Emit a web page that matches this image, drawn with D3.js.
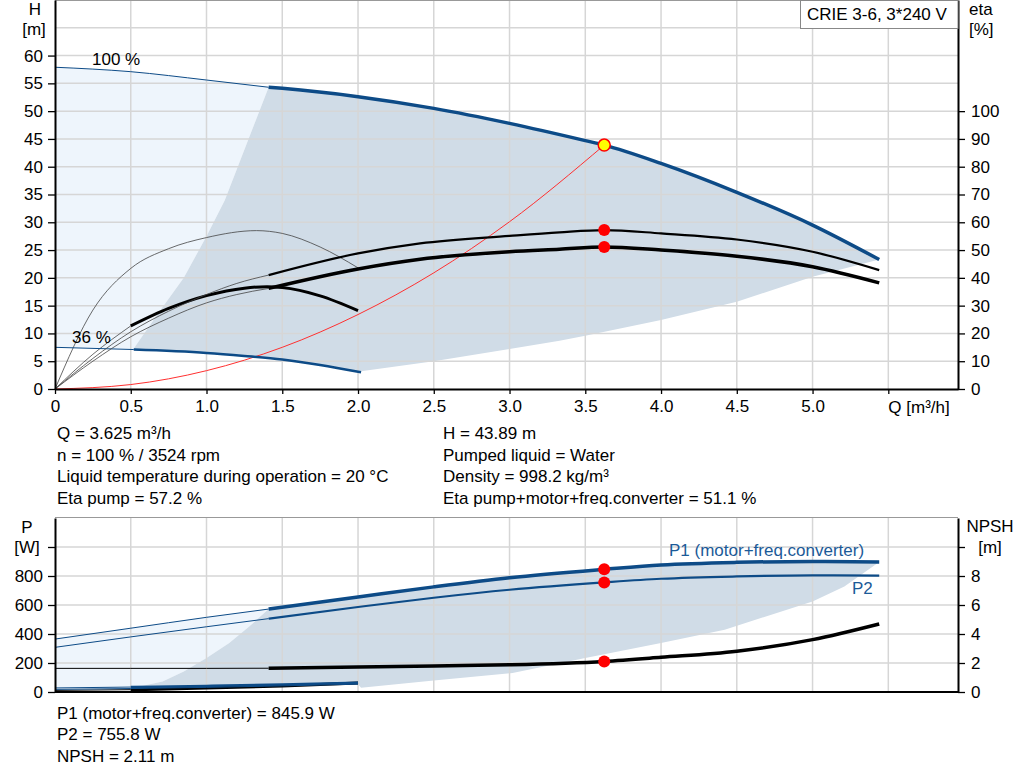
<!DOCTYPE html>
<html>
<head>
<meta charset="utf-8">
<script src="https://cdn.jsdelivr.net/npm/d3@7"></script>
<style>
  body { margin: 0; background: #fff; }
  svg text { font-family: "Liberation Sans", Arial, sans-serif; font-size: 17px; fill: #000; }
</style>
</head>
<body>
<div id="chart"></div>
<script>
// ---- head / efficiency (upper chart) ----
const qH100 = [0, 0.5, 1.0, 1.41, 1.5, 2.0, 2.5, 3.0, 3.5, 3.625, 4.0, 4.5, 5.0, 5.44];
const h100 = [57.9, 57.1, 55.6, 54.3, 54.1, 52.6, 50.5, 47.8, 44.7, 43.89, 40.6, 35.4, 29.5, 23.3];
const qH36 = [0, 0.52, 1.0, 1.25, 1.5, 1.75, 2.02];
const h36 = [7.5, 7.1, 6.5, 5.95, 5.3, 4.3, 3.0];

const qEta100 = [0, 0.25, 0.5, 0.75, 1.0, 1.2, 1.41, 2.0, 2.41, 3.0, 3.33, 3.625, 4.0, 4.5, 5.0, 5.44];
const etaPump100 = [0, 11, 20.6, 28, 34, 38, 41, 48.8, 52.4, 55.1, 56.4, 57.2, 56.0, 53.8, 49.4, 42.8];
const etaTotal100 = [0, 10, 18.8, 25.5, 31, 34, 36.2, 43.2, 46.7, 49.4, 50.3, 51.1, 50.0, 47.8, 44.0, 38.2];

const qEtaPump36 = [0, 0.25, 0.5, 0.75, 1.0, 1.33, 1.5, 1.75, 2.0];
const etaPump36 = [0, 28.4, 43.4, 50.5, 54.5, 57.0, 56.0, 51.1, 43.6];
const qEtaTotal36 = [0, 0.25, 0.5, 0.75, 1.0, 1.25, 1.4, 1.5, 1.75, 2.0];
const etaTotal36 = [0, 12.5, 22.7, 29, 33.6, 36.3, 36.8, 36.5, 33.5, 28.2];

const qSystem = [0, 0.5, 1.0, 1.5, 2.0, 2.5, 3.0, 3.625];
const hSystem = [0, 0.8, 3.3, 7.5, 13.4, 20.9, 30.1, 43.89];

const qMinBound = [0.52, 0.68, 0.85, 1.0, 1.12, 1.41];
const hMinBound = [7.3, 13.6, 20.0, 27.5, 33.9, 54.3];
const qLowBound = [2.02, 2.5, 3.0, 3.33, 3.5, 4.0, 4.5, 5.0, 5.44];
const hLowBound = [3.2, 5.0, 7.2, 8.7, 9.6, 12.4, 15.7, 20.2, 23.3];

// ---- power / NPSH (lower chart) ----
const qP100 = [0, 0.5, 1.0, 1.41, 2.0, 2.5, 3.0, 3.625, 4.0, 4.5, 5.0, 5.44];
const p1_100 = [365, 440, 515, 572, 655, 725, 788, 846, 876, 894, 900, 897];
const p2_100 = [308, 380, 450, 506, 586, 650, 705, 756, 781, 797, 804, 802];
const npsh100 = [1.63, 1.63, 1.63, 1.64, 1.72, 1.80, 1.88, 2.11, 2.39, 2.81, 3.61, 4.69];

const qP36 = [0, 0.5, 1.0, 1.5, 2.0];
const p1_36 = [28, 34, 42, 52, 64];
const p2_36 = [18, 24, 32, 42, 54];
const npsh36 = [0.11, 0.16, 0.27, 0.42, 0.62];

const qPMinBound = [0.52, 0.71, 0.85, 1.0, 1.15, 1.28, 1.41];
const pMinBound = [30, 73, 142, 235, 338, 450, 572];
const qPLowBound = [2.02, 2.5, 3.02, 3.5, 4.0, 4.42, 5.0, 5.21, 5.44];
const pLowBound = [30, 80, 131, 234, 338, 430, 625, 728, 897];

// ---- duty point / ticks / texts ----
const dutyQ = 3.625, dutyH = 43.89, dutyEtaPump = 57.2, dutyEtaTotal = 51.1;
const dutyP1 = 845.9, dutyP2 = 755.8, dutyNpsh = 2.11;

const qTicks = [0, 0.5, 1.0, 1.5, 2.0, 2.5, 3.0, 3.5, 4.0, 4.5, 5.0, 5.5];
const hTicks = [0, 5, 10, 15, 20, 25, 30, 35, 40, 45, 50, 55, 60];
const hGrid = [5, 10, 15, 20, 25, 30, 35, 40, 45, 50, 55, 60, 65];
const etaTicks = [0, 10, 20, 30, 40, 50, 60, 70, 80, 90, 100];
const pTicks = [0, 200, 400, 600, 800, 1000];
const npshTicks = [0, 2, 4, 6, 8, 10];

const infoLeft = ["Q = 3.625 m³/h", "n = 100 % / 3524 rpm",
  "Liquid temperature during operation = 20 °C", "Eta pump = 57.2 %"];
const infoRight = ["H = 43.89 m", "Pumped liquid = Water",
  "Density = 998.2 kg/m³", "Eta pump+motor+freq.converter = 51.1 %"];
const infoBottom = ["P1 (motor+freq.converter) = 845.9 W", "P2 = 755.8 W", "NPSH = 2.11 m"];

const BLUE = "#0d4b87", LIGHT = "#eef5fc", DARK = "#d0dce7", GRID = "#d6d6d6";

const svg = d3.select("#chart").append("svg")
  .attr("width", 1024).attr("height", 781);

const x = d3.scaleLinear().domain([0, 5.96]).range([55, 958]);
const yH = d3.scaleLinear().domain([0, 70]).range([389, 0]);
const yEta = d3.scaleLinear().domain([0, 140]).range([389, 0]);
const yP = d3.scaleLinear().domain([0, 1200]).range([692, 518]);
const yN = d3.scaleLinear().domain([0, 12]).range([692, 518]);

const zip = (qs, vs) => qs.map((q, i) => [q, vs[i]]);
const part = (qs, vs, lo, hi) => zip(qs, vs).filter(d => d[0] >= lo && d[0] <= hi);

function curve(pts, ys, color, width) {
  svg.append("path")
    .attr("d", d3.line().x(d => x(d[0])).y(d => ys(d[1])).curve(d3.curveMonotoneX)(pts))
    .attr("fill", "none").attr("stroke", color).attr("stroke-width", width)
    .attr("stroke-linecap", "butt");
}
function area(pts, ys, color) {
  svg.append("path")
    .attr("d", d3.line().x(d => x(d[0])).y(d => ys(d[1]))(pts) + "Z")
    .attr("fill", color).attr("stroke", "none");
}
function rev(a) { return a.slice().reverse(); }

// ---------- upper chart fills ----------
area([].concat(part(qH100, h100, 0, 1.41), rev(zip(qMinBound, hMinBound)),
  rev(part(qH36, h36, 0, 0.52))), yH, LIGHT);
area([].concat(zip(qMinBound, hMinBound), part(qH100, h100, 1.41, 6),
  rev(zip(qLowBound, hLowBound)), rev(part(qH36, h36, 0.52, 2.1))), yH, DARK);

// grid
svg.append("g").selectAll("line").data(qTicks.slice(1)).join("line")
  .attr("x1", d => x(d)).attr("x2", d => x(d)).attr("y1", 0).attr("y2", 389)
  .attr("stroke", GRID).attr("stroke-width", 1.5);
svg.append("g").selectAll("line").data(hGrid).join("line")
  .attr("x1", 55).attr("x2", 958).attr("y1", d => yH(d)).attr("y2", d => yH(d))
  .attr("stroke", GRID).attr("stroke-width", 1.5);

// system curve
curve(zip(qSystem, hSystem), yH, "#ff3030", 1);

// 36 % curves
curve(zip(qEtaPump36, etaPump36), yEta, "#444", 0.8);
curve(part(qEtaTotal36, etaTotal36, 0, 0.5), yEta, "#444", 0.8);
curve(part(qEtaTotal36, etaTotal36, 0.5, 2.1), yEta, "#000", 3);
curve(part(qH36, h36, 0, 0.52), yH, BLUE, 1);
curve(part(qH36, h36, 0.52, 2.1), yH, BLUE, 2.5);

// 100 % curves
curve(part(qEta100, etaPump100, 0, 1.41), yEta, "#444", 0.8);
curve(part(qEta100, etaTotal100, 0, 1.41), yEta, "#444", 0.8);
curve(part(qEta100, etaPump100, 1.41, 6), yEta, "#000", 2.2);
curve(part(qEta100, etaTotal100, 1.41, 6), yEta, "#000", 3.5);
curve(part(qH100, h100, 0, 1.41), yH, BLUE, 1);
curve(part(qH100, h100, 1.41, 6), yH, BLUE, 3.5);

// duty points
svg.append("circle").attr("cx", x(dutyQ)).attr("cy", yEta(dutyEtaPump)).attr("r", 6).attr("fill", "#ff0000");
svg.append("circle").attr("cx", x(dutyQ)).attr("cy", yEta(dutyEtaTotal)).attr("r", 6).attr("fill", "#ff0000");
svg.append("circle").attr("cx", x(dutyQ)).attr("cy", yH(dutyH)).attr("r", 6)
  .attr("fill", "#ffff00").attr("stroke", "#ff0000").attr("stroke-width", 1.5);

// curve labels
svg.append("text").attr("x", 92).attr("y", 65).text("100 %");
svg.append("text").attr("x", 72).attr("y", 343).text("36 %");

// axes upper
svg.append("line").attr("x1", 55).attr("x2", 958).attr("y1", 0.5).attr("y2", 0.5)
  .attr("stroke", "#999").attr("stroke-width", 1);
svg.append("g").attr("transform", "translate(55,0)")
  .call(d3.axisLeft(yH).tickValues(hTicks).tickSize(7).tickSizeOuter(0).tickPadding(5));
svg.append("g").attr("transform", "translate(958,0)")
  .call(d3.axisRight(yEta).tickValues(etaTicks).tickSize(7).tickSizeOuter(0).tickPadding(6));
svg.append("g").attr("transform", "translate(0,389)")
  .call(d3.axisBottom(x).tickValues(qTicks).tickSize(5).tickSizeOuter(0).tickPadding(6)
    .tickFormat(d => d === 5.5 ? "" : (d === 0 ? "0" : d.toFixed(1))));
svg.append("text").attr("x", x(5.5)).attr("y", 413).text("Q [m³/h]");
svg.append("text").attr("x", 35).attr("y", 15).attr("text-anchor", "middle").text("H");
svg.append("text").attr("x", 34).attr("y", 35).attr("text-anchor", "middle").text("[m]");
svg.append("text").attr("x", 969).attr("y", 15).text("eta");
svg.append("text").attr("x", 969).attr("y", 35).text("[%]");

// model box
svg.append("rect").attr("x", 800.5).attr("y", 0.5).attr("width", 157.5).attr("height", 28)
  .attr("fill", "#fff").attr("stroke", "#888");
svg.append("text").attr("x", 807).attr("y", 20).text("CRIE 3-6, 3*240 V");

// info text
infoLeft.forEach((t, i) => svg.append("text").attr("x", 57).attr("y", 439 + i * 21.5).text(t));
infoRight.forEach((t, i) => svg.append("text").attr("x", 443).attr("y", 439 + i * 21.5).text(t));

// ---------- lower chart ----------
area([].concat(part(qP100, p1_100, 0, 1.41), rev(zip(qPMinBound, pMinBound)),
  rev(part(qP36, p1_36, 0, 0.52))), yP, LIGHT);
area([].concat(zip(qPMinBound, pMinBound), part(qP100, p1_100, 1.41, 6),
  rev(zip(qPLowBound, pLowBound)), rev(part(qP36, p2_36, 0.5, 2.1))), yP, DARK);

svg.append("g").selectAll("line").data(qTicks.slice(1)).join("line")
  .attr("x1", d => x(d)).attr("x2", d => x(d)).attr("y1", 518).attr("y2", 692)
  .attr("stroke", GRID).attr("stroke-width", 1.5);
svg.append("g").selectAll("line").data(pTicks.slice(1)).join("line")
  .attr("x1", 55).attr("x2", 958).attr("y1", d => yP(d)).attr("y2", d => yP(d))
  .attr("stroke", GRID).attr("stroke-width", 1.5);

curve(part(qP36, npsh36, 0, 0.5), yN, "#000", 1);
curve(part(qP36, npsh36, 0.5, 2.1), yN, "#000", 3);
curve(part(qP36, p2_36, 0, 2.1), yP, BLUE, 1);
curve(part(qP36, p1_36, 0, 0.5), yP, BLUE, 1);
curve(part(qP36, p1_36, 0.5, 2.1), yP, BLUE, 2.5);

curve(part(qP100, npsh100, 0, 1.41), yN, "#000", 1);
curve(part(qP100, npsh100, 1.41, 6), yN, "#000", 3.5);
curve(part(qP100, p2_100, 0, 1.41), yP, BLUE, 1);
curve(part(qP100, p2_100, 1.41, 6), yP, BLUE, 2.2);
curve(part(qP100, p1_100, 0, 1.41), yP, BLUE, 1);
curve(part(qP100, p1_100, 1.41, 6), yP, BLUE, 3.5);

[yP(dutyP1), yP(dutyP2), yN(dutyNpsh)].forEach(cy =>
  svg.append("circle").attr("cx", x(dutyQ)).attr("cy", cy).attr("r", 6).attr("fill", "#ff0000"));

svg.append("text").attr("x", 669).attr("y", 556).style("fill", "#1b5a98").text("P1 (motor+freq.converter)");
svg.append("text").attr("x", 852).attr("y", 594).style("fill", "#1b5a98").text("P2");

svg.append("line").attr("x1", 55).attr("x2", 958).attr("y1", 517.5).attr("y2", 517.5)
  .attr("stroke", "#999").attr("stroke-width", 1);
svg.append("g").attr("transform", "translate(55,0)")
  .call(d3.axisLeft(yP).tickValues(pTicks).tickSize(7).tickSizeOuter(0).tickPadding(5)
    .tickFormat(d => d === 1000 ? "" : d));
svg.append("g").attr("transform", "translate(958,0)")
  .call(d3.axisRight(yN).tickValues(npshTicks).tickSize(7).tickSizeOuter(0).tickPadding(6)
    .tickFormat(d => d === 10 ? "" : d));
svg.append("line").attr("x1", 55).attr("x2", 958).attr("y1", 692).attr("y2", 692)
  .attr("stroke", "#000").attr("stroke-width", 2);
svg.append("text").attr("x", 27).attr("y", 533).attr("text-anchor", "middle").text("P");
svg.append("text").attr("x", 27).attr("y", 553).attr("text-anchor", "middle").text("[W]");
svg.append("text").attr("x", 990).attr("y", 532).attr("text-anchor", "middle").text("NPSH");
svg.append("text").attr("x", 990).attr("y", 553).attr("text-anchor", "middle").text("[m]");

infoBottom.forEach((t, i) => svg.append("text").attr("x", 57).attr("y", 718.5 + i * 21.5).text(t));

// axis styling
svg.selectAll(".domain").attr("stroke", "#000").attr("stroke-width", 2);
svg.selectAll(".tick line").attr("stroke", "#000").attr("stroke-width", 1.3);
svg.selectAll(".tick text").style("font-family", "'Liberation Sans', Arial, sans-serif")
  .style("font-size", "17px").style("fill", "#000");
</script>
</body>
</html>
